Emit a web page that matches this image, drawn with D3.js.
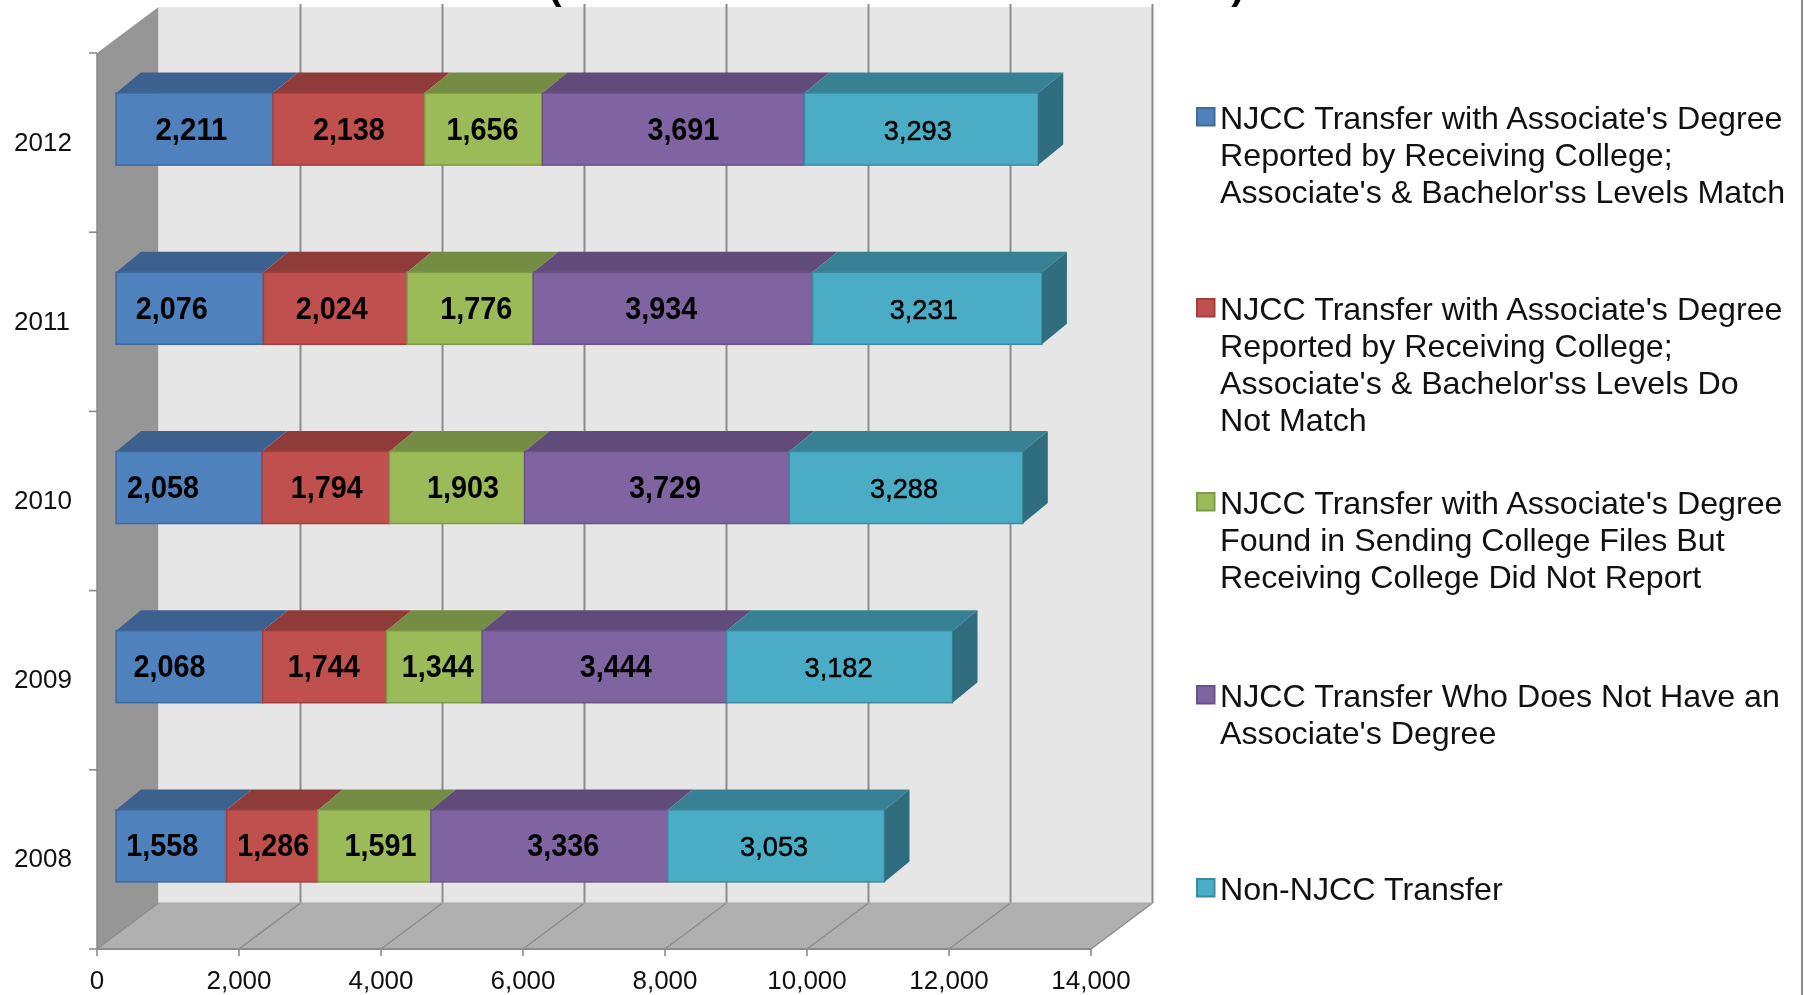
<!DOCTYPE html>
<html><head><meta charset="utf-8">
<script src="https://cdn.jsdelivr.net/npm/d3@7"></script>
<style>html,body{margin:0;background:#fff}svg{display:block;filter:blur(0.55px)}text{font-family:"Liberation Sans",Arial,sans-serif}</style>
</head><body><svg id="c" width="1804" height="995"></svg>
<script>
const years=["2012","2011","2010","2009","2008"];
const seriesNames=[
 ["NJCC Transfer with Associate's Degree","Reported by Receiving College;","Associate's & Bachelor'ss Levels Match"],
 ["NJCC Transfer with Associate's Degree","Reported by Receiving College;","Associate's & Bachelor'ss Levels Do","Not Match"],
 ["NJCC Transfer with Associate's Degree","Found in Sending College Files But","Receiving College Did Not Report"],
 ["NJCC Transfer Who Does Not Have an","Associate's Degree"],
 ["Non-NJCC Transfer"]];
const s1=[2211,2076,2058,2068,1558];
const s2=[2138,2024,1794,1744,1286];
const s3=[1656,1776,1903,1344,1591];
const s4=[3691,3934,3729,3444,3336];
const s5=[3293,3231,3288,3182,3053];
const allSeries=[s1,s2,s3,s4,s5];
const xTicks=[0,2000,4000,6000,8000,10000,12000,14000];
const colors=["#4f81bd","#c0504d","#9bbb59","#8064a2","#4bacc6"];
const tops=["#3d618e","#8f3b39","#748c43","#604b7a","#388195"];
const sides=["#345478","#7a3230","#63773a","#523f67","#306e7f"];
const strokes=["#3f6a9c","#a0403e","#7f9a48","#6a5287","#3b8aa0"];
// horizontal nudge of each data label from its bar centre, by year then series
const labelNudge=[[-3,0,-1,10,-3.5],[-18,-3.5,6,-11.5,-3.5],[-26,1,6,8,-2],[-20,-1,3.5,11.5,-1],[-9,1,6,14,-2]];

const svg=d3.select("#c");
const x=d3.scaleLinear().domain([0,14000]).range([97,1091]);
const y=d3.scaleBand().domain(years).range([53,949]).paddingInner(0).paddingOuter(0);
const DX=61.5,DY=46,wallTop=7;
const P=(...p)=>p.map(a=>a.join(",")).join(" ");
const floorY=y.range()[1], topY=y.range()[0];

// walls
svg.append("polygon").attr("points",P([x(0),topY],[x(0)+DX,wallTop],[x(0)+DX,floorY-DY],[x(0),floorY])).attr("fill","#969696");
svg.append("polygon").attr("points",P([x(0)+DX,wallTop],[x(14000)+DX,wallTop],[x(14000)+DX,floorY-DY],[x(0)+DX,floorY-DY])).attr("fill","#e6e6e6");
svg.append("polygon").attr("points",P([x(0),floorY],[x(14000),floorY],[x(14000)+DX,floorY-DY],[x(0)+DX,floorY-DY])).attr("fill","#b0b0b0");

// frame edge at the right of the picture
svg.append("line").attr("x1",1802).attr("x2",1802).attr("y1",0).attr("y2",995).attr("stroke","#8c8c8c").attr("stroke-width",2);

// grid
const grid="#8c8c8c";
svg.selectAll(".g").data(xTicks.slice(1)).join("line")
 .attr("x1",d=>x(d)+DX).attr("x2",d=>x(d)+DX).attr("y1",wallTop-3).attr("y2",floorY-DY)
 .attr("stroke",grid).attr("stroke-width",2);
svg.selectAll(".f").data(xTicks).join("line")
 .attr("x1",d=>x(d)).attr("y1",floorY).attr("x2",d=>x(d)+DX).attr("y2",floorY-DY)
 .attr("stroke",grid).attr("stroke-width",1.5);
svg.append("line").attr("x1",x(0)).attr("x2",x(14000)).attr("y1",floorY).attr("y2",floorY).attr("stroke",grid).attr("stroke-width",2);
svg.append("line").attr("x1",x(0)).attr("x2",x(0)).attr("y1",topY).attr("y2",floorY).attr("stroke",grid).attr("stroke-width",1.6);
svg.append("line").attr("x1",x(0)+DX).attr("x2",x(14000)+DX).attr("y1",floorY-DY).attr("y2",floorY-DY).attr("stroke","#a6a6a6").attr("stroke-width",1);

// axes
const tc="#111";
svg.selectAll(".xt").data(xTicks).join("line").attr("x1",d=>x(d)).attr("x2",d=>x(d)).attr("y1",floorY).attr("y2",floorY+7).attr("stroke",grid).attr("stroke-width",1.6);
svg.selectAll(".xl").data(xTicks).join("text").attr("x",d=>x(d)).attr("y",989).attr("text-anchor","middle").attr("font-size",26).attr("fill",tc).text(d3.format(","));
const yEdges=years.map(d=>y(d)).concat([floorY]);
svg.selectAll(".yt").data(yEdges).join("line").attr("x1",x(0)-8).attr("x2",x(0)).attr("y1",d=>d).attr("y2",d=>d).attr("stroke",grid).attr("stroke-width",1.6);
svg.selectAll(".yl").data(years).join("text").attr("x",14).attr("y",d=>y(d)+y.bandwidth()/2+8).attr("font-size",26).attr("fill",tc).text(d=>d);

// bars
const barZ0=19,barH=72,bdx=25,bdy=20.5,barY=d=>y(d)+y.bandwidth()/2-13.5-36;
const bx=v=>x(v)+barZ0;
years.forEach((yr,i)=>{
 let acc=0;
 const g=svg.append("g");
 allSeries.forEach((s,k)=>{
  const a=acc,b=acc+s[i];acc=b;
  const t=barY(yr),bm=t+barH;
  g.append("polygon").attr("points",P([bx(a),t],[bx(b),t],[bx(b)+bdx,t-bdy],[bx(a)+bdx,t-bdy])).attr("fill",tops[k]);
  g.append("rect").attr("x",bx(a)).attr("y",t).attr("width",bx(b)-bx(a)).attr("height",barH).attr("fill",colors[k]).attr("stroke",strokes[k]).attr("stroke-width",1.5);
  if(k===4) g.append("polygon").attr("points",P([bx(b),t],[bx(b)+bdx,t-bdy],[bx(b)+bdx,bm-bdy],[bx(b),bm])).attr("fill",sides[k]);
  g.append("text").attr("x",bx((a+b)/2)+labelNudge[i][k]).attr("y",t+46.5).attr("text-anchor","middle")
   .attr("font-size",k===4?28:31).attr("font-weight",k===4?400:700).attr("fill","#000")
   .attr("stroke",k===4?"#000":"none").attr("stroke-width",k===4?0.5:0)
   .attr("textLength",k===4?68:72).attr("lengthAdjust","spacingAndGlyphs").text(d3.format(",")(s[i]));
 });
});

// title fragment
svg.append("text").attr("x",555).attr("y",-1).attr("font-size",40).attr("font-weight",700).attr("text-anchor","middle").text("(");
svg.append("text").attr("x",1238).attr("y",-1).attr("font-size",40).attr("font-weight",700).attr("text-anchor","middle").text(")");

// legend
const legY=[117,308,502,695,888];
seriesNames.forEach((lines,k)=>{
 svg.append("rect").attr("x",1197).attr("y",legY[k]-9).attr("width",17.5).attr("height",17.5).attr("fill",colors[k]).attr("stroke",strokes[k]).attr("stroke-width",2);
 lines.forEach((l,j)=>svg.append("text").attr("x",1220).attr("y",legY[k]+11.5+j*37).attr("font-size",32.2).attr("fill","#111").text(l));
});
</script></body></html>
